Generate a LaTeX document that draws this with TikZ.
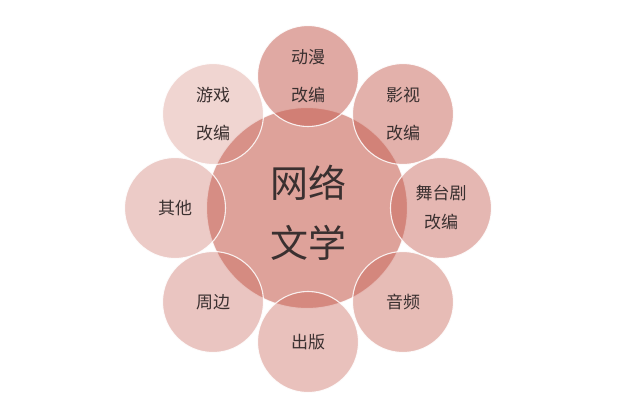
\documentclass[tikz,border=0pt]{standalone}
\usepackage{fontspec}
\newfontfamily\cjk{Noto Sans CJK SC}
\definecolor{basec}{RGB}{200,100,88}
\definecolor{txt}{RGB}{58,48,48}
\begin{document}
\begin{tikzpicture}[x=1pt,y=-1pt,
  petal/.style={circle,inner sep=0pt,minimum size=101pt,fill=basec,fill opacity=#1,
    draw=white,draw opacity=0.85,line width=1.1pt,text opacity=1,text=txt,
    align=center,font=\cjk\fontsize{17}{38}\selectfont},
  hub/.style={circle,inner sep=0pt,minimum size=201pt,fill=basec,fill opacity=0.6,
    draw=white,draw opacity=0.85,line width=1.1pt},
  hubtext/.style={text=txt,align=center,font=\cjk\fontsize{38}{60}\selectfont}]
\fill[white] (0,0) rectangle (640,402);
\useasboundingbox (0,0) rectangle (640,402);
\node[hub] (c) at (307,208) {};
\node[petal=0.55] (dm) at (308,76) {动漫\\改编};
\node[petal=0.5] (ys) at (403,114) {影视\\改编};
\node[petal=0.46,font=\cjk\fontsize{17}{29}\selectfont] (wt) at (441,208) {舞台剧\\改编};
\node[petal=0.43] (yp) at (403,302) {音频};
\node[petal=0.4] (cb) at (308,342) {出版};
\node[petal=0.37] (zb) at (213,302) {周边};
\node[petal=0.33] (qt) at (175,208) {其他};
\node[petal=0.27] (yx) at (213,114) {游戏\\改编};
\node[hubtext] (ct) at (308,213) {网络\\文学};
\end{tikzpicture}
\end{document}
